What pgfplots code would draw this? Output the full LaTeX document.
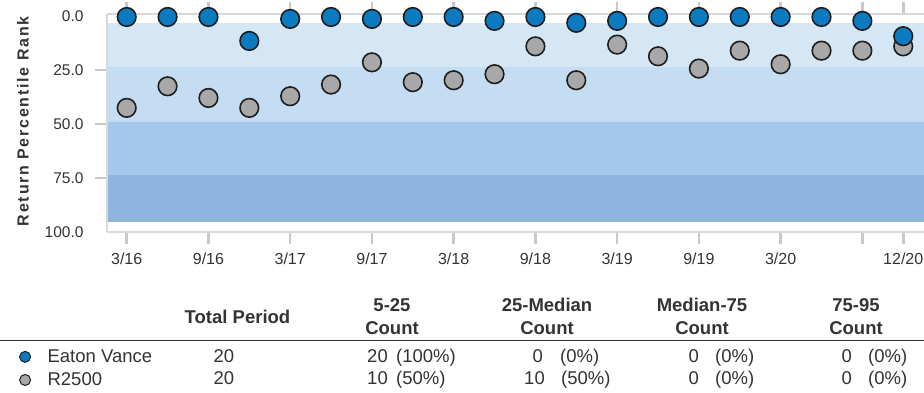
\documentclass[border=0pt]{standalone}
\usepackage{fontspec}
\setmainfont{Liberation Sans}
\usepackage{pgfplots}
\pgfplotsset{compat=1.18}
\definecolor{evblue}{HTML}{0B7BC1}
\definecolor{rgray}{HTML}{A8A8A8}
\definecolor{edge}{HTML}{1E1E1E}
\definecolor{bandA}{HTML}{D5E6F5}
\definecolor{bandB}{HTML}{C4DDF3}
\definecolor{bandC}{HTML}{A3C8EC}
\definecolor{bandD}{HTML}{8FB4E0}
\definecolor{framec}{HTML}{D9D9D9}
\definecolor{tickc}{HTML}{C8C8C8}
\definecolor{txt}{HTML}{333333}
\newcommand{\tf}{\fontsize{18.5bp}{21bp}\selectfont}
\begin{document}
\begin{tikzpicture}
\useasboundingbox (0,0) rectangle (924bp,-393bp);
\begin{axis}[
  at={(107bp,-232bp)}, anchor=south west,
  scale only axis, width=817bp, height=218.4bp,
  xmin=-0.482, xmax=19.508, ymin=-1.16, ymax=100, y dir=reverse,
  axis line style={draw=none},
  clip mode=individual,
  xtick={0,2,4,6,8,10,12,14,16,18,19},
  xticklabels={3/16,9/16,3/17,9/17,3/18,9/18,3/19,9/19,3/20,,12/20},
  ytick={0,100},
  yticklabels={0.0,100.0},
  extra y ticks={25,50,75},
  extra y tick labels={25.0,50.0,75.0},
  extra y tick style={ytick style={draw=tickc, line width=2.6bp}},
  tick align=outside,
  major tick length=12bp,
  xtick style={draw=tickc, line width=2.6bp},
  ytick style={draw=none},
  xticklabel style={font=\fontsize{16bp}{18bp}\selectfont, text=txt, yshift=-5bp},
  yticklabel style={font=\fontsize{15.5bp}{18bp}\selectfont, text=txt, xshift=-8bp},
  ylabel={\bfseries\addfontfeatures{LetterSpace=11}Return Percentile Rank},
  ylabel style={at={(axis description cs:-0.1028,0.507)}, anchor=center, font=\fontsize{16bp}{18bp}\selectfont, text=txt},
  legend style={draw=none, fill=none, at={(axis description cs:-0.11297,-0.529)}, anchor=north west,
    font=\tf, text=txt, inner sep=0pt, nodes={inner sep=2bp}, row sep=4.8bp},
  legend cell align=left,
  legend image code/.code={\draw[#1] plot coordinates {(0bp,0bp)}; \path (-10bp,0bp) (20.3bp,0bp);},
]
% background bands
\addplot[forget plot, fill=bandA, draw=none] coordinates {(-1,3.15) (21,3.15) (21,23.4) (-1,23.4)} -- cycle;
\addplot[forget plot, fill=bandB, draw=none] coordinates {(-1,23.4) (21,23.4) (21,48.9) (-1,48.9)} -- cycle;
\addplot[forget plot, fill=bandC, draw=none] coordinates {(-1,48.9) (21,48.9) (21,73.4) (-1,73.4)} -- cycle;
\addplot[forget plot, fill=bandD, draw=none] coordinates {(-1,73.4) (21,73.4) (21,95.3) (-1,95.3)} -- cycle;
% frame
\draw[framec, line width=2bp] (axis description cs:0,0) -- (axis description cs:1.05,0);
\draw[framec, line width=2bp] (axis description cs:0,1) -- (axis description cs:1.05,1);
\draw[framec, line width=2bp] (axis description cs:0,0) -- (axis description cs:0,1);
% R2500
\addplot[forget plot, only marks, mark=*, mark size=9.3bp, mark options={fill=rgray, draw=edge, line width=1.6bp}]
coordinates {(0,42.5) (1,32.5) (2,37.9) (3,42.5) (4,37.1) (5,31.7) (6,21.4) (7,30.6) (8,29.7) (9,26.9)
 (10,14.0) (11,29.7) (12,13.2) (13,18.6) (14,24.3) (15,16.0) (16,22.3) (17,16.0) (18,16.0) (19,14.0)};
% Eaton Vance
\addplot[forget plot, only marks, mark=*, mark size=9.3bp, mark options={fill=evblue, draw=edge, line width=1.6bp}]
coordinates {(0,0.4) (1,0.4) (2,0.4) (3,11.5) (4,1.3) (5,0.4) (6,1.3) (7,0.4) (8,0.4) (9,2.2)
 (10,0.4) (11,3.1) (12,2.2) (13,0.4) (14,0.4) (15,0.4) (16,0.4) (17,0.4) (18,2.2) (19,9.3)};
\addlegendimage{only marks, mark=*, mark size=5.5bp, mark options={fill=evblue, draw=edge, line width=1bp}}
\addlegendentry{Eaton Vance}
\addlegendimage{only marks, mark=*, mark size=5.5bp, mark options={fill=rgray, draw=edge, line width=1bp}}
\addlegendentry{R2500}
\end{axis}
% table header
\begin{scope}[every node/.style={text=txt, font=\tf\bfseries, inner sep=0pt, anchor=base}]
\node at (237.5bp,-323.6bp) {Total Period};
\node at (392bp,-311.6bp) {5-25};
\node at (392bp,-334.6bp) {Count};
\node at (547bp,-311.6bp) {25-Median};
\node at (547bp,-334.6bp) {Count};
\node at (702bp,-311.6bp) {Median-75};
\node at (702bp,-334.6bp) {Count};
\node at (856bp,-311.6bp) {75-95};
\node at (856bp,-334.6bp) {Count};
\end{scope}
\draw[txt, line width=1.5bp] (0bp,-340.5bp) -- (924bp,-340.5bp);
% table rows
\begin{scope}[every node/.style={text=txt, font=\tf, inner sep=0pt}]
\node[anchor=base] at (224bp,-362.6bp) {20};
\node[anchor=base east] at (388bp,-362.6bp) {20};
\node[anchor=base west] at (396bp,-362.6bp) {(100\%)};
\node[anchor=base east] at (543bp,-362.6bp) {0};
\node[anchor=base west] at (560bp,-362.6bp) {(0\%)};
\node[anchor=base east] at (699bp,-362.6bp) {0};
\node[anchor=base west] at (715bp,-362.6bp) {(0\%)};
\node[anchor=base east] at (852bp,-362.6bp) {0};
\node[anchor=base west] at (868bp,-362.6bp) {(0\%)};
\node[anchor=base] at (224bp,-384.6bp) {20};
\node[anchor=base east] at (388bp,-384.6bp) {10};
\node[anchor=base west] at (396bp,-384.6bp) {(50\%)};
\node[anchor=base east] at (545bp,-384.6bp) {10};
\node[anchor=base west] at (561bp,-384.6bp) {(50\%)};
\node[anchor=base east] at (699bp,-384.6bp) {0};
\node[anchor=base west] at (715bp,-384.6bp) {(0\%)};
\node[anchor=base east] at (852bp,-384.6bp) {0};
\node[anchor=base west] at (868bp,-384.6bp) {(0\%)};
\end{scope}
\end{tikzpicture}
\end{document}
